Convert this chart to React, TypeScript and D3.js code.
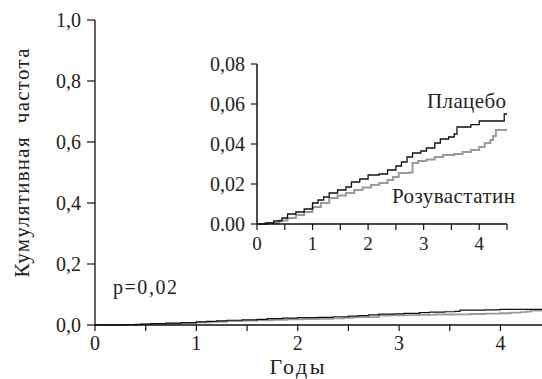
import React, { useRef, useEffect } from 'react';
import * as d3 from 'd3';

// time points (years) and cumulative frequencies
const placeboT = [0, 0.15, 0.3, 0.45, 0.55, 0.7, 0.85, 1.0, 1.1, 1.2, 1.3, 1.45, 1.6, 1.7, 1.85, 2.0, 2.2, 2.35, 2.5, 2.6, 2.7, 2.8, 2.95, 3.05, 3.2, 3.3, 3.45, 3.55, 3.6, 3.85, 4.0, 4.45, 4.5];
const placeboV = [0, 0.0005, 0.0015, 0.003, 0.005, 0.006, 0.0075, 0.0105, 0.012, 0.0135, 0.0155, 0.017, 0.0185, 0.021, 0.0225, 0.0245, 0.025, 0.027, 0.029, 0.031, 0.0335, 0.0355, 0.0365, 0.038, 0.0405, 0.0425, 0.0435, 0.045, 0.0485, 0.0497, 0.0515, 0.055, 0.055];
const rosuT = [0, 0.2, 0.4, 0.55, 0.7, 0.85, 1.0, 1.15, 1.3, 1.45, 1.6, 1.75, 1.9, 2.05, 2.2, 2.35, 2.45, 2.55, 2.75, 2.8, 2.9, 3.05, 3.2, 3.35, 3.55, 3.7, 3.85, 4.0, 4.1, 4.2, 4.25, 4.3, 4.5];
const rosuV = [0, 0.0005, 0.0018, 0.003, 0.0045, 0.006, 0.0085, 0.0105, 0.013, 0.0142, 0.0155, 0.017, 0.0182, 0.0195, 0.0205, 0.022, 0.0235, 0.0255, 0.0258, 0.0305, 0.0315, 0.0322, 0.0335, 0.0345, 0.035, 0.036, 0.037, 0.0385, 0.0405, 0.042, 0.044, 0.047, 0.047];

const mainYTicks = [0, 0.2, 0.4, 0.6, 0.8, 1.0];
const mainYLabels = ['0,0', '0,2', '0,4', '0,6', '0,8', '1,0'];
const xTickLabels = ['0', '1', '2', '3', '4'];
const insetYTicks = [0, 0.02, 0.04, 0.06, 0.08];
const insetYLabels = ['0.00', '0,02', '0,04', '0,06', '0,08'];

const FONT = "'Liberation Serif', 'DejaVu Serif', serif";

const App = () => {
    const ref = useRef(null);

    useEffect(() => {
        const svg = d3.select(ref.current);
        svg.selectAll('*').remove();

        const placebo = placeboT.map((t, i) => ({ t, v: placeboV[i] }));
        const rosu = rosuT.map((t, i) => ({ t, v: rosuV[i] }));

        // ---- main chart
        const x = d3.scaleLinear().domain([0, 4.4]).range([95, 541]);
        const y = d3.scaleLinear().domain([0, 1]).range([325, 20]);

        const main = svg.append('g').style('font-family', FONT);
        const clip = svg.append('clipPath').attr('id', 'mainclip');
        clip.append('rect').attr('x', 95).attr('y', 0).attr('width', 447).attr('height', 379);

        const line = d3.line().curve(d3.curveStepAfter).x(d => x(d.t)).y(d => y(d.v));
        main.append('path').datum(rosu).attr('d', line).attr('fill', 'none')
            .attr('stroke', '#9a9a9a').attr('stroke-width', 1.8).attr('clip-path', 'url(#mainclip)');
        main.append('path').datum(placebo).attr('d', line).attr('fill', 'none')
            .attr('stroke', '#111').attr('stroke-width', 1.2).attr('clip-path', 'url(#mainclip)');

        main.append('line').attr('x1', 95).attr('x2', 95).attr('y1', y(1)).attr('y2', y(0))
            .attr('stroke', '#111').attr('stroke-width', 1.3);
        main.append('line').attr('x1', 95).attr('x2', 542).attr('y1', y(0)).attr('y2', y(0))
            .attr('stroke', '#111').attr('stroke-width', 1.3);

        mainYTicks.forEach((v, i) => {
            main.append('line').attr('x1', 87).attr('x2', 95).attr('y1', y(v)).attr('y2', y(v))
                .attr('stroke', '#111').attr('stroke-width', 1.2);
            main.append('text').attr('x', 81).attr('y', y(v) + 7).attr('text-anchor', 'end')
                .attr('font-size', 20).attr('fill', '#222').text(mainYLabels[i]);
        });
        d3.range(0, 4.01, 0.5).forEach(t => {
            main.append('line').attr('x1', x(t)).attr('x2', x(t)).attr('y1', y(0)).attr('y2', y(0) + 6)
                .attr('stroke', '#111').attr('stroke-width', 1.2);
        });
        xTickLabels.forEach((l, i) => {
            main.append('text').attr('x', x(i)).attr('y', 350).attr('text-anchor', 'middle')
                .attr('font-size', 20).attr('fill', '#222').text(l);
        });
        main.append('text').attr('x', 297).attr('y', 374).attr('text-anchor', 'middle')
            .attr('font-size', 22).attr('fill', '#222').attr('textLength', 55).text('Годы');
        main.append('text').attr('transform', 'translate(29,163) rotate(-90)').attr('text-anchor', 'middle')
            .attr('font-size', 21).attr('fill', '#222')
            .attr('textLength', 229).attr('lengthAdjust', 'spacing')
            .style('white-space', 'pre').text('Кумулятивная  частота');
        main.append('text').attr('x', 113).attr('y', 294)
            .attr('font-size', 20).attr('fill', '#222').attr('textLength', 64).text('p=0,02');

        // ---- inset
        const ix = d3.scaleLinear().domain([0, 4.5]).range([257, 507]);
        const iy = d3.scaleLinear().domain([0, 0.08]).range([224, 64]);
        const inset = svg.append('g').style('font-family', FONT);
        const iline = d3.line().curve(d3.curveStepAfter).x(d => ix(d.t)).y(d => iy(d.v));
        inset.append('path').datum(rosu).attr('d', iline).attr('fill', 'none')
            .attr('stroke', '#9a9a9a').attr('stroke-width', 2);
        inset.append('path').datum(placebo).attr('d', iline).attr('fill', 'none')
            .attr('stroke', '#111').attr('stroke-width', 1.3);

        inset.append('line').attr('x1', 257).attr('x2', 257).attr('y1', iy(0.08)).attr('y2', iy(0))
            .attr('stroke', '#111').attr('stroke-width', 1.5);
        inset.append('line').attr('x1', 257).attr('x2', 507).attr('y1', iy(0)).attr('y2', iy(0))
            .attr('stroke', '#111').attr('stroke-width', 1.5);
        insetYTicks.forEach((v, i) => {
            inset.append('line').attr('x1', 251).attr('x2', 257).attr('y1', iy(v)).attr('y2', iy(v))
                .attr('stroke', '#111').attr('stroke-width', 1.2);
            inset.append('text').attr('x', 245).attr('y', iy(v) + 7).attr('text-anchor', 'end')
                .attr('font-size', 20).attr('fill', '#222').text(insetYLabels[i]);
        });
        d3.range(0, 4.51, 0.5).forEach(t => {
            inset.append('line').attr('x1', ix(t)).attr('x2', ix(t)).attr('y1', iy(0)).attr('y2', iy(0) + 6)
                .attr('stroke', '#111').attr('stroke-width', 1.2);
        });
        xTickLabels.forEach((l, i) => {
            inset.append('text').attr('x', ix(i)).attr('y', 250).attr('text-anchor', 'middle')
                .attr('font-size', 19).attr('fill', '#222').text(l);
        });
        inset.append('text').attr('x', 506).attr('y', 108).attr('text-anchor', 'end')
            .attr('font-size', 21).attr('fill', '#222').attr('textLength', 79).text('Плацебо');
        inset.append('text').attr('x', 515).attr('y', 203).attr('text-anchor', 'end')
            .attr('font-size', 21).attr('fill', '#222').attr('textLength', 123).text('Розувастатин');

        return () => {
            svg.selectAll('*').remove();
        };
    }, []);

    return (
        <svg ref={ref} width={542} height={379}
            style={{ position: 'absolute', left: 0, top: 0, background: '#fff' }} />
    );
};

export default App;
